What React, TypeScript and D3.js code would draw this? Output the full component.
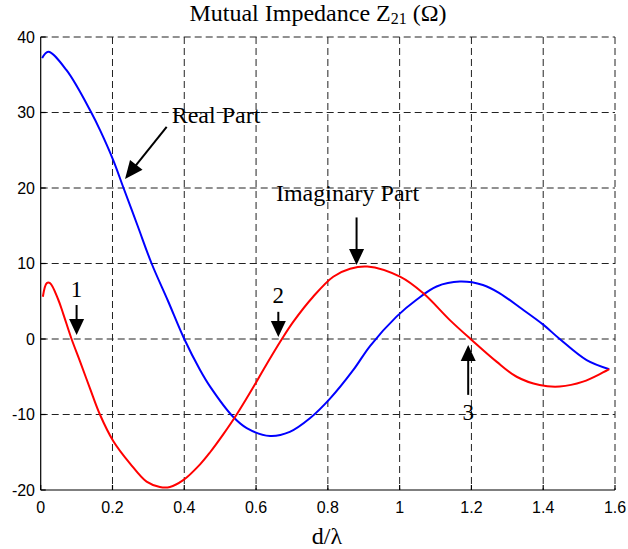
import React from "react";
import * as d3 from "d3";

const W = 628;
const H = 549;

const xTicks = [0, 0.2, 0.4, 0.6, 0.8, 1, 1.2, 1.4, 1.6];
const yTicks = [-20, -10, 0, 10, 20, 30, 40];

const realD = [0.004, 0.021, 0.072, 0.142, 0.165, 0.202, 0.23, 0.27, 0.309, 0.355, 0.4, 0.444, 0.472, 0.536, 0.574, 0.639, 0.694, 0.75, 0.806, 0.871, 0.918, 0.992, 1.047, 1.103, 1.168, 1.232, 1.279, 1.34, 1.4, 1.446, 1.521, 1.584];
const realV = [37.2, 38.05, 35.6, 29.9, 27.7, 23.7, 20.1, 15.0, 10.0, 5.0, 0.0, -4.1, -6.3, -10.3, -11.8, -12.85, -12.3, -10.5, -7.9, -4.1, -0.9, 3.0, 5.2, 6.95, 7.6, 7.15, 6.05, 4.0, 1.9, 0.0, -2.8, -4.0];

const imagD = [0.006, 0.017, 0.026, 0.049, 0.063, 0.086, 0.109, 0.137, 0.165, 0.202, 0.249, 0.295, 0.332, 0.36, 0.397, 0.444, 0.472, 0.509, 0.546, 0.602, 0.62, 0.672, 0.704, 0.759, 0.815, 0.862, 0.91, 1.001, 1.066, 1.14, 1.2, 1.27, 1.326, 1.39, 1.446, 1.511, 1.584];
const imagV = [5.6, 7.4, 7.4, 5.2, 3.3, 0.0, -2.9, -6.5, -10.0, -13.5, -16.5, -18.9, -19.6, -19.6, -18.7, -16.6, -15.0, -12.6, -10.0, -5.6, -4.1, 0.0, 2.3, 5.6, 8.25, 9.3, 9.6, 8.25, 6.05, 2.5, -0.1, -3.0, -5.0, -6.1, -6.3, -5.65, -4.0];

// vertical arrows in data units
const vArrows = [
  { x: 0.1, y0: 4.5, y1: 0.53, label: "1", ly: 5.6 },
  { x: 0.662, y0: 3.6, y1: 0.26, label: "2", ly: 4.8 },
  { x: 0.88, y0: 16.1, y1: 9.8, label: "", ly: 0 },
  { x: 1.191, y0: -7.4, y1: -0.8, label: "3", ly: -10.7 },
];

export default function App() {
  const left = 40.7, right = 615, top = 37, bottom = 490;
  const x = d3.scaleLinear().domain([0, 1.6]).range([left, right]);
  const y = d3.scaleLinear().domain([-20, 40]).range([bottom, top]);

  const line = d3
    .line<[number, number]>()
    .x((d) => x(d[0]))
    .y((d) => y(d[1]))
    .curve(d3.curveCatmullRom.alpha(0.5));

  const realPts = realD.map((d, i) => [d, realV[i]] as [number, number]);
  const imagPts = imagD.map((d, i) => [d, imagV[i]] as [number, number]);

  const serif = "'Liberation Serif', 'Times New Roman', serif";
  const sans = "'Liberation Sans', Arial, sans-serif";

  const arrowHead = (tx: number, ty: number, dx: number, dy: number, len = 16, w = 7.5) => {
    const L = Math.hypot(dx, dy);
    const ux = dx / L, uy = dy / L;
    const bx = tx - ux * len, by = ty - uy * len;
    const px = -uy, py = ux;
    return `M${tx},${ty}L${bx + px * w},${by + py * w}L${bx - px * w},${by - py * w}Z`;
  };

  const rFrom = [x(0.351), y(28.1)];
  const rTo = [x(0.235), y(21.2)];

  return (
    <svg width={W} height={H} style={{ position: "absolute", left: 0, top: 0, background: "#fff" }}>
      <rect x={0} y={0} width={W} height={H} fill="#fff" />
      <g stroke="#222" strokeWidth={1} strokeDasharray="7,4" fill="none">
        {xTicks.slice(1).map((t) => (
          <line key={"gx" + t} x1={x(t)} x2={x(t)} y1={top} y2={bottom} />
        ))}
        {yTicks.slice(1).map((t) => (
          <line key={"gy" + t} x1={left} x2={right} y1={y(t)} y2={y(t)} />
        ))}
      </g>
      <g stroke="#000" strokeWidth={1.2}>
        <line x1={left} x2={left} y1={top} y2={bottom} />
        <line x1={left} x2={right} y1={bottom} y2={bottom} />
        {xTicks.map((t) => (
          <line key={"tx" + t} x1={x(t)} x2={x(t)} y1={bottom} y2={bottom - 5} />
        ))}
        {yTicks.map((t) => (
          <line key={"ty" + t} x1={left} x2={left + 5} y1={y(t)} y2={y(t)} />
        ))}
      </g>
      <g fontFamily={sans} fontSize={16} fill="#000">
        {xTicks.map((t) => (
          <text key={"lx" + t} x={x(t)} y={512.5} textAnchor="middle">
            {String(t)}
          </text>
        ))}
        {yTicks.map((t) => (
          <text key={"ly" + t} x={35} y={y(t) + 5.8} textAnchor="end">
            {String(t)}
          </text>
        ))}
      </g>
      <path d={line(realPts) || ""} fill="none" stroke="#0000ff" strokeWidth={2} />
      <path d={line(imagPts) || ""} fill="none" stroke="#ff0000" strokeWidth={2} />
      <g fill="#000" stroke="none" fontFamily={serif}>
        {vArrows.map((a, i) => {
          const x0 = x(a.x), y0 = y(a.y0), y1 = y(a.y1);
          const dir = y1 > y0 ? 1 : -1;
          return (
            <g key={"a" + i}>
              <line x1={x0} x2={x0} y1={y0} y2={y1 - dir * 14} stroke="#000" strokeWidth={2} />
              <path d={arrowHead(x0, y1, 0, y1 - y0)} />
              {a.label && (
                <text x={x0} y={y(a.ly)} textAnchor="middle" fontSize={23}>
                  {a.label}
                </text>
              )}
            </g>
          );
        })}
        <line x1={rFrom[0]} y1={rFrom[1]} x2={rTo[0] + 8} y2={rTo[1] - 10} stroke="#000" strokeWidth={2} />
        <path d={arrowHead(rTo[0], rTo[1], rTo[0] - rFrom[0], rTo[1] - rFrom[1], 18, 8)} />
        <text x={x(0.365)} y={y(28.6)} fontSize={24}>Real Part</text>
        <text x={x(0.855)} y={y(18.3)} fontSize={24} textAnchor="middle">Imaginary Part</text>
        <text x={318} y={20.5} fontSize={24} textAnchor="middle">
          Mutual Impedance Z<tspan fontSize={16} dy={3}>21</tspan>
          <tspan dy={-3}> (Ω)</tspan>
        </text>
        <text x={327} y={544} fontSize={24} textAnchor="middle">d/λ</text>
      </g>
    </svg>
  );
}
